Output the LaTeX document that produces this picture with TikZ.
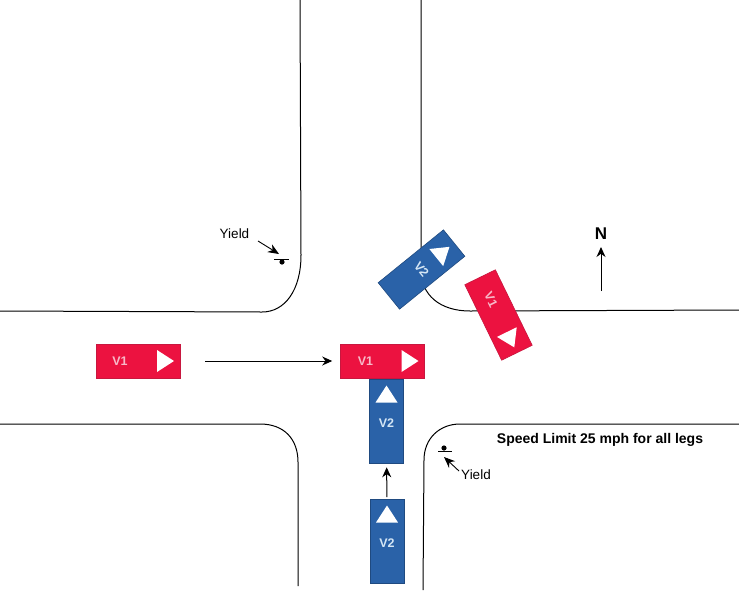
\documentclass[tikz,border=0pt]{standalone}
\usepackage{fontspec}
\setmainfont{Liberation Sans}
\usetikzlibrary{arrows.meta}
\definecolor{vred}{HTML}{EC1240}
\definecolor{vredd}{HTML}{C8173F}
\definecolor{vblue}{HTML}{2A62A8}
\definecolor{vblued}{HTML}{1F4A80}
\definecolor{vlabelr}{HTML}{F7B9C8}
\definecolor{vlabelb}{HTML}{D4E6F5}
\tikzset{
  road/.style={draw=black,line width=1pt},
  flow/.style={draw=black,line width=1pt,-{Stealth[length=10pt,width=9pt]}},
  callout/.style={draw=black,line width=0.9pt,-{Stealth[length=11pt,width=9pt]}},
  vbody/.style={minimum width=84pt,minimum height=34pt,inner sep=0pt,line width=0.6pt},
  vlabel/.style={font=\bfseries\fontsize{12.5}{12.5}\selectfont,inner sep=0pt},
  plain/.style={font=\fontsize{13.5}{13.5}\selectfont,inner sep=0pt},
  signbar/.style={draw=black,line width=0.9pt},
}
% name, x, y, heading, fill, border, label colour, text rotation offset, label offset
\newcommand{\vehicle}[9]{%
  \node[vbody,fill=#5,draw=#6,rotate=#4] (#1) at (#2,#3) {};
  \begin{scope}[shift={(#2,#3)},rotate=#4]
    \fill[white] (36,0) -- (19,-11) -- (19,11) -- cycle;
    \node[vlabel,text=#7,rotate=#4-#8] at (#9,0) {\vehlabel};
  \end{scope}}
\newcommand{\vehlabel}{}
\begin{document}
\begin{tikzpicture}[x=1pt,y=-1pt]
\useasboundingbox (0,0) rectangle (739,590);
\fill[white] (0,0) rectangle (739,590);
% road edges
\path[road] (300,0) -- (301,255) .. controls (301,290) and (285,312) .. (262,312) -- (0,311);
\path[road] (0,424) -- (260,424) .. controls (285,424) and (298,440) .. (298,462) -- (298,586);
\path[road] (421,0) -- (421,270) .. controls (421,295) and (440,311) .. (470,311) -- (739,310);
\path[road] (739,424) -- (460,424) .. controls (440,424) and (424,438) .. (424,460) -- (423,590);
% vehicles
\renewcommand{\vehlabel}{V1}
\vehicle{vonea}{138}{361}{0}{vred}{vredd}{vlabelr}{0}{-18}
\vehicle{voneb}{382.5}{361}{0}{vred}{vredd}{vlabelr}{0}{-17}
\vehicle{vonec}{498.5}{315}{-64}{vred}{vredd}{vlabelr}{0}{-17}
\renewcommand{\vehlabel}{V2}
\vehicle{vtwoa}{387}{541.5}{90}{vblue}{vblued}{vlabelb}{90}{-2}
\vehicle{vtwob}{386.5}{421.5}{90}{vblue}{vblued}{vlabelb}{90}{-2}
\vehicle{vtwoc}{421.5}{269.5}{39}{vblue}{vblued}{vlabelb}{90}{0}
% travel arrows
\draw[flow,shorten <=25pt,shorten >=8pt] (vonea) -- (voneb);
\draw[flow,shorten <=2pt,shorten >=3.5pt] (vtwoa) -- (vtwob);
% north
\node[font=\bfseries\fontsize{17}{17}\selectfont,inner sep=0pt] (north) at (601,233.5) {N};
\coordinate (ntail) at (601,291);
\draw[flow] (ntail) -- (601,247);
% yield signs
\node[plain] (ynw) at (234.5,233.5) {Yield};
\coordinate (ynwtip) at (279,254);
\draw[callout] (258,241) -- (ynwtip);
\draw[signbar] (274,259) -- (289,259);
\fill (282,262) circle (2.6);
\node[plain] (yse) at (476,475) {Yield};
\coordinate (ysetip) at (444,457);
\draw[callout] (459,471) -- (ysetip);
\draw[signbar] (438,451) -- (452,451);
\fill (444,448) circle (2.6);
% speed limit
\node[font=\bfseries\fontsize{14}{14}\selectfont,inner sep=0pt] (speed) at (600,439.5) {Speed Limit 25 mph for all legs};
\end{tikzpicture}
\end{document}
